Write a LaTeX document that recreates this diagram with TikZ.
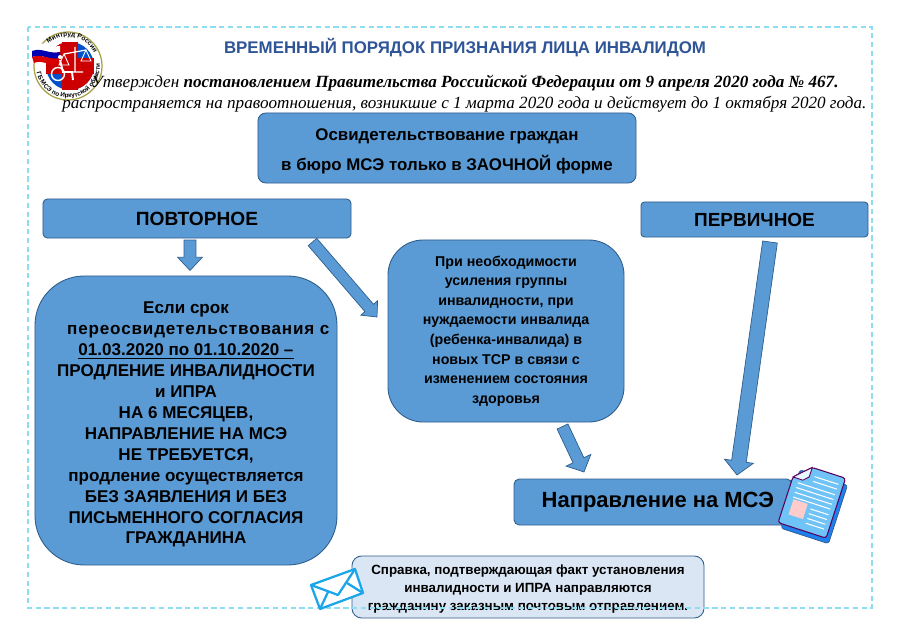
\documentclass[tikz,border=0pt]{standalone}
\usepackage{fontspec}
\setmainfont{Liberation Sans}
\newfontfamily\serifit{Liberation Serif}
\usetikzlibrary{calc,decorations.text}
\definecolor{boxblue}{HTML}{5B9BD5}
\definecolor{boxline}{HTML}{2F5D8C}
\definecolor{palebox}{HTML}{DAE6F4}
\definecolor{titleblue}{HTML}{2F5597}
\definecolor{framecol}{HTML}{8FDDF0}
\definecolor{mailblue}{HTML}{1CA6EA}
\definecolor{pagefront}{HTML}{6FC3F7}
\definecolor{pageback}{HTML}{1E7FEF}
\newcommand{\fsz}[2]{\fontsize{#1}{#2}\selectfont}
\newcommand{\blockarrow}[5]{%
  \coordinate (ba) at ($(#2)!#5!(#1)$);
  \draw[blk] ($(#1)!#3!90:(#2)$) -- ($(ba)!#3!90:(#2)$) -- ($(ba)!#4!90:(#2)$)
    -- (#2) -- ($(ba)!#4!-90:(#2)$) -- ($(ba)!#3!-90:(#2)$) -- ($(#1)!#3!-90:(#2)$) -- cycle;}

\begin{document}
\begin{tikzpicture}[
  x=0.2mm, y=-0.2mm,
  box/.style={draw=boxline, fill=boxblue, line width=0.5pt, align=center, inner sep=0pt},
  blk/.style={draw=boxline, fill=boxblue, line width=0.4pt, line join=miter},
  intro/.style={anchor=base west, inner sep=0pt, font=\serifit\itshape\fsz{9.74}{12}},
  mailln/.style={draw=mailblue, line width=1.3pt, line join=round}
]
\useasboundingbox (0,0) rectangle (900,636);

% ---- boxes ----
\node[font=\bfseries\fsz{9.6}{11}, text=titleblue, inner sep=0pt] (title) at (465,47.5)
  {ВРЕМЕННЫЙ ПОРЯДОК ПРИЗНАНИЯ ЛИЦА ИНВАЛИДОМ};
\path (258,113) rectangle coordinate (topc) (636,183);
\node[box, rounded corners=4.5pt, minimum width=75.6mm, minimum height=14mm, font=\bfseries\fsz{9.6}{17.6}] (topbox) at (topc)
  {\rule{0pt}{10.5pt}Освидетельствование граждан\\в бюро МСЭ только в ЗАОЧНОЙ форме};
\node[box, rounded corners=2.5pt, minimum width=61.6mm, minimum height=7.8mm, font=\bfseries\fsz{10.9}{12}] (povt) at (197,218.5) {ПОВТОРНОЕ};
\node[box, rounded corners=2pt, minimum width=45.4mm, minimum height=7mm, font=\bfseries\fsz{10.8}{12}] (perv) at (754.5,219.5) {ПЕРВИЧНОЕ};
\node[box, rounded corners=28pt, minimum width=60.4mm, minimum height=57.8mm, font=\bfseries\fsz{9.7}{11.9}] (bigbox) at (186,420.5)
  {\rule{0pt}{11.5pt}Если срок\\\hspace*{14pt}{\addfontfeature{LetterSpace=5}переосвидетельствования с}\\\underline{01.03.2020 по 01.10.2020 --}\\ПРОДЛЕНИЕ ИНВАЛИДНОСТИ\\и ИПРА\\НА 6 МЕСЯЦЕВ,\\НАПРАВЛЕНИЕ НА МСЭ\\НЕ ТРЕБУЕТСЯ,\\продление осуществляется\\БЕЗ ЗАЯВЛЕНИЯ И БЕЗ\\ПИСЬМЕННОГО СОГЛАСИЯ\\ГРАЖДАНИНА};
\node[box, rounded corners=20pt, minimum width=47.2mm, minimum height=36.4mm, font=\bfseries\fsz{8.1}{11.1}] (midbox) at (506,331)
  {При необходимости\\усиления группы\\инвалидности, при\\нуждаемости инвалида\\(ребенка-инвалида) в\\новых ТСР в связи с\\изменением состояния\\здоровья};
\node[box, rounded corners=3pt, minimum width=55.6mm, minimum height=9.2mm, font=\bfseries\fsz{12.5}{14}] (naprbox) at (653,502) {\hspace*{5.5pt}Направление на МСЭ};
\node[box, fill=palebox, rounded corners=5.5pt, minimum width=70.4mm, minimum height=12.4mm, font=\bfseries\fsz{7.6}{10.2}] (sprav) at (528,587)
  {\rule{0pt}{8pt}Справка, подтверждающая факт установления\\инвалидности и ИПРА направляются\\гражданину заказным почтовым отправлением.};
\draw[framecol, line width=0.7pt, densely dashed] (28,27) rectangle (872,608);

% ---- block arrows ----
\coordinate (a1s) at (190,240);
\coordinate (a1e) at (190,270.5);
\coordinate (a2s) at (312.5,242);
\coordinate (a2e) at (377,317);
\coordinate (a3s) at (562.5,426.5);
\coordinate (a3e) at (584,472);
\coordinate (a4s) at (770,242);
\coordinate (a4e) at (737,475);
\blockarrow{a1s}{a1e}{3.4pt}{7.1pt}{7.6pt}
\blockarrow{a2s}{a2e}{3.2pt}{6.3pt}{6.8pt}
\blockarrow{a3s}{a3e}{3.4pt}{7.8pt}{7.4pt}
\blockarrow{a4s}{a4e}{4.2pt}{8.3pt}{7.9pt}

% ---- document icon ----
\begin{scope}[shift={(811,507)}, rotate=-18]
  \draw[fill=pageback, draw=boxline, line width=0.4pt, rounded corners=1.5pt] (-22,-32) rectangle (28,29.5);
  \draw[fill=pagefront, draw=violet!70!black, line width=0.6pt, rounded corners=1.5pt]
    (-11,-38) -- (24,-38) -- (24,25) -- (-26.5,25) -- (-26.5,-23) -- cycle;
  \draw[fill=cyan!10, draw=violet!70!black, line width=0.5pt] (-26.5,-23) -- (-11,-38) -- (-11,-28) -- (-16,-23) -- cycle;
  \fill[pink!80!white] (-19,-2) rectangle (-4,14);
  \foreach \yy in {-30,-25} {\draw[white, line width=0.6pt] (-6,\yy) -- (19,\yy);}
  \foreach \yy in {-19,-14,-9,-4} {\draw[white, line width=0.6pt] (-20,\yy) -- (19,\yy);}
  \foreach \yy in {2,7,12,17} {\draw[white, line width=0.6pt] (0,\yy) -- (19,\yy);}
\end{scope}

% ---- envelope ----
\draw[mailln, fill=white] (311,585) -- (355,569) -- (363,593) -- (320,609) -- cycle;
\draw[mailln] (311,585) -- (338,595) -- (355,569);
\draw[mailln] (320,609) -- (328,592);
\draw[mailln] (363,593) -- (347,583);

% ---- emblem ----
\begin{scope}[shift={(68,66)}, y=0.2mm]
  \draw[draw=yellow!60!black, fill=white, line width=0.7pt] (0,0) circle (34);
  \fill[blue!60!cyan!80!black] (2,0) circle (24);
  \fill[red!80!black] (-6,24) rectangle (10,-24);
  \fill[red!80!black] (-22,8) rectangle (26,-8);
  \fill[red!80!black] (2,0) -- (-22,0) arc[start angle=180, end angle=90, radius=24] -- cycle;
  \fill[red!80!black] (2,0) -- (26,0) arc[start angle=0, end angle=-90, radius=24] -- cycle;
  % flag
  \fill[white] (-36,21) .. controls (-26,26) and (-18,18) .. (-8,20) -- (-8,14) .. controls (-18,11) and (-26,19) .. (-36,15) -- cycle;
  \fill[blue!70!black] (-36,15) .. controls (-26,19) and (-18,11) .. (-8,14) -- (-8,8) .. controls (-18,5) and (-26,13) .. (-36,9) -- cycle;
  \fill[red!85!black] (-36,9) .. controls (-26,13) and (-18,5) .. (-8,8) -- (-8,2) .. controls (-18,-1) and (-26,7) .. (-34,3) -- cycle;
  % scales
  \draw[white, line width=0.7pt] (-4,12) -- (18,16) (7,19) -- (7,-6) (-1,-6) -- (15,-6);
  \draw[white, line width=0.5pt] (-4,12) -- (-9,1) -- (1,1) -- cycle (18,16) -- (13,5) -- (23,5) -- cycle;
  % wheelchair
  \draw[white, line width=0.8pt] (-10,-8) circle (6.5);
  \draw[white, line width=1.1pt] (-8,6) -- (-5,-6) -- (4,-6) -- (5,-14);
  \fill[white] (-8,9) circle (2);
  % ring text
  \path[decorate, decoration={text along path, text align=center, text={|\bfseries\fsz{3.7}{3.7}|Минтруд России}}]
    (-20,22) arc[start angle=132, end angle=25, radius=29.5];
  \path[decorate, decoration={text along path, text align=center, text={|\bfseries\fsz{3.6}{3.6}|ГБ МСЭ по Иркутской области}}]
    (-32,-2) arc[start angle=184, end angle=372, radius=32];
\end{scope}

% ---- header text, over the emblem ----
\node[intro] (line1) at (91,88) {Утвержден \textbf{постановлением Правительства Российской Федерации от 9 апреля 2020 года № 467.}};
\node[intro] (line2) at (62,109) {распространяется на правоотношения, возникшие с 1 марта 2020 года и действует до 1 октября 2020 года.};
\end{tikzpicture}
\end{document}
